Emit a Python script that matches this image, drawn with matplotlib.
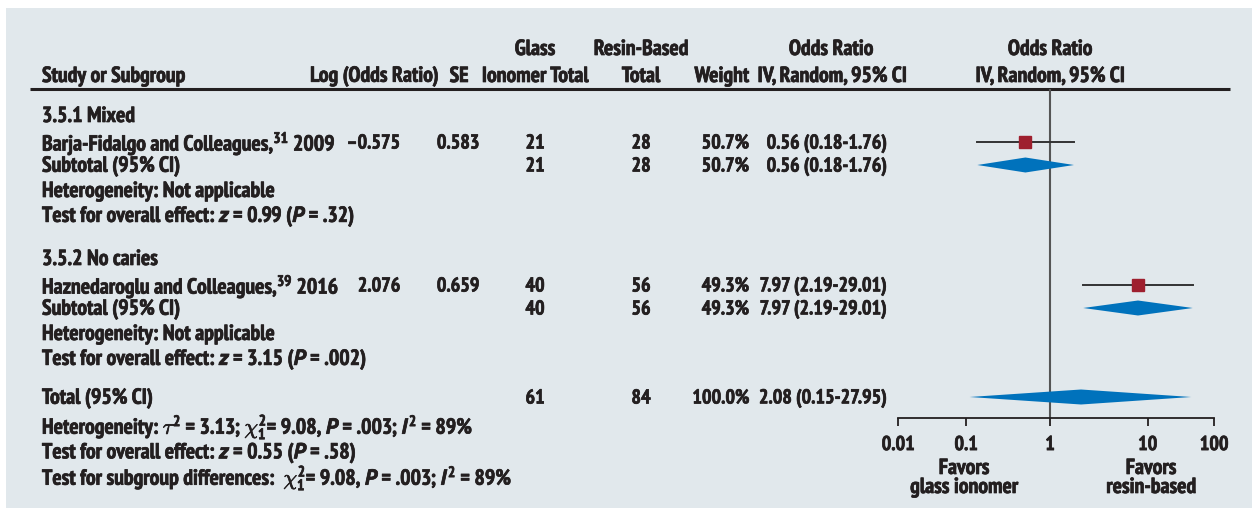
import numpy as np
import matplotlib
matplotlib.use('Agg')
import matplotlib.pyplot as plt
import matplotlib.patheffects as pe
from matplotlib import font_manager as fm
from matplotlib.patches import Rectangle

# ---- data ----
study_labels = ["Barja-Fidalgo and Colleagues,$^{31}$ 2009",
                "Haznedaroglu and Colleagues,$^{39}$ 2016"]
log_or = ["\u20130.575", "2.076"]
se = ["0.583", "0.659"]
glass_n = ["21", "40"]
resin_n = ["28", "56"]
weights = ["50.7%", "49.3%"]
or_text = ["0.56 (0.18-1.76)", "7.97 (2.19-29.01)"]
or_est = [0.56, 7.97]
or_lo = [0.18, 2.19]
or_hi = [1.76, 29.01]

subtotal_est = [0.56, 7.97]
subtotal_lo = [0.18, 2.19]
subtotal_hi = [1.76, 29.01]

total_n = ["61", "84"]
total_weight = "100.0%"
total_text = "2.08 (0.15-27.95)"
total_est, total_lo, total_hi = 2.08, 0.15, 27.95

subgroups = ["3.5.1 Mixed", "3.5.2 No caries"]
subgroup_tests = ["Test for overall effect: $z$ = 0.99 ($P$ = .32)",
                  "Test for overall effect: $z$ = 3.15 ($P$ = .002)"]
total_notes = [r"Heterogeneity: $\tau^2$ = 3.13; $\chi^2_1$= 9.08, $P$ = .003; $I^2$ = 89%",
               "Test for overall effect: $z$ = 0.55 ($P$ = .58)",
               r"Test for subgroup differences:  $\chi^2_1$= 9.08, $P$ = .003; $I^2$ = 89%"]
tick_labels = ["0.01", "0.1", "1", "10", "100"]

# ---- pick a bold condensed font ----
fonts = fm.fontManager.ttflist
def has(name, italic=False):
    for f in fonts:
        if f.name == name and (f.weight in ('bold', 700, 600, 'semibold') or
                               (isinstance(f.weight, int) and f.weight >= 600)):
            if (f.style == 'italic') == italic:
                return True
    return False

cands = ['PT Sans Narrow', 'Fira Sans Condensed', 'Roboto Condensed', 'Open Sans Condensed',
         'Archivo Narrow', 'Encode Sans Condensed', 'Asap Condensed', 'IBM Plex Sans Condensed',
         'Liberation Sans Narrow', 'DejaVu Sans Condensed', 'DejaVu Sans']
FAM = next(c for c in cands if has(c))
it_cands = [FAM, 'PT Sans', 'Fira Sans Condensed', 'Roboto Condensed', 'DejaVu Sans']
IT_FAM = next(c for c in it_cands if has(c, italic=True))

plt.rcParams['font.family'] = [FAM, 'DejaVu Sans']
plt.rcParams['font.weight'] = 'bold'
plt.rcParams['mathtext.fontset'] = 'custom'
plt.rcParams['mathtext.rm'] = FAM + ':bold'
plt.rcParams['mathtext.it'] = IT_FAM + ':bold:italic'
plt.rcParams['mathtext.bf'] = FAM + ':bold'

TXT = '#231f20'
PANEL = '#e1e8ec'
RED = '#9e1f2e'
BLUE = '#0072bc'
HEAVY = [pe.withStroke(linewidth=0.5, foreground=TXT)]

W, H = 1258, 514
fig = plt.figure(figsize=(W / 100, H / 100), dpi=100)
fig.patch.set_facecolor('white')

ax = fig.add_axes([0, 0, 1, 1])
ax.set_xlim(0, W)
ax.set_ylim(H, 0)
ax.axis('off')
ax.add_patch(Rectangle((6, 8), 1246, 500, facecolor=PANEL, edgecolor='none', zorder=0))

# fit font size so "Study or Subgroup" is as wide as in the reference (~143 px)
renderer = fig.canvas.get_renderer()
probe = ax.text(0, 0, "Study or Subgroup", fontsize=12)
FS = 12 * 143 / probe.get_window_extent(renderer).width
probe.remove()
FS_NUM = FS * 0.92   # numbers in the reference are set a little tighter


def t(x, y, s, ha='left', size=None, **kw):
    ax.text(x, y + 1.5, s, ha=ha, va='center', fontsize=size or FS, color=TXT,
            path_effects=HEAVY, **kw)


def n(x, y, s, ha='center'):
    t(x, y, s, ha=ha, size=FS_NUM)


# column layout (pixel positions)
X_LEFT, X_LOG, X_SE, X_G, X_R, X_W, X_OR, X_PLOT = 42, 400, 458, 535, 641, 749, 886, 1050

# header
t(X_G, 48, "Glass", ha='center')
t(X_R, 48, "Resin-Based", ha='center')
t(831, 48, "Odds Ratio", ha='center')
t(X_PLOT, 48, "Odds Ratio", ha='center')
t(X_LEFT, 75, "Study or Subgroup")
t(438, 75, "Log (Odds Ratio)", ha='right')
t(459, 75, "SE", ha='center')
t(X_G, 75, "Ionomer Total", ha='center')
t(X_R, 75, "Total", ha='center')
t(X_W, 75, "Weight", ha='right')
t(832, 75, "IV, Random, 95% CI", ha='center')
t(X_PLOT, 75, "IV, Random, 95% CI", ha='center')
ax.plot([30, 1230], [89, 89], color=TXT, lw=2.2, solid_capstyle='butt')

# rows: y positions for each subgroup block
block_y = [115, 258]
study_rows, sub_rows = [], []
for i, y0 in enumerate(block_y):
    y_study, y_sub, y_het, y_test = y0 + 27, y0 + 50, y0 + 75, y0 + 100
    study_rows.append(y_study)
    sub_rows.append(y_sub)
    t(X_LEFT, y0, subgroups[i])
    t(X_LEFT, y_study, study_labels[i])
    n(X_LOG, y_study, log_or[i], ha='right')
    n(X_SE, y_study, se[i])
    n(X_G, y_study, glass_n[i])
    n(X_R, y_study, resin_n[i])
    n(X_W, y_study, weights[i], ha='right')
    n(X_OR, y_study, or_text[i], ha='right')
    t(X_LEFT, y_sub, "Subtotal (95% CI)")
    n(X_G, y_sub, glass_n[i])
    n(X_R, y_sub, resin_n[i])
    n(X_W, y_sub, weights[i], ha='right')
    n(X_OR, y_sub, or_text[i], ha='right')
    t(X_LEFT, y_het, "Heterogeneity: Not applicable")
    t(X_LEFT, y_test, subgroup_tests[i])

y_total = 397
t(X_LEFT, y_total, "Total (95% CI)")
n(X_G, y_total, total_n[0])
n(X_R, y_total, total_n[1])
n(X_W, y_total, total_weight, ha='right')
n(X_OR, y_total, total_text, ha='right')
for k, note in enumerate(total_notes):
    t(X_LEFT, 426 + k * 25.5, note)

# ---- forest plot axes (log scale, 1 at x=1050, ~97.6 px per decade) ----
ax_left, ax_right, ax_top, ax_bot = 898, 1214, 89, 418
px_dec = 97.6
fa = fig.add_axes([ax_left / W, 1 - ax_bot / H, (ax_right - ax_left) / W, (ax_bot - ax_top) / H])
fa.set_xscale('log')
fa.set_xlim(10 ** ((ax_left - X_PLOT) / px_dec), 10 ** ((ax_right - X_PLOT) / px_dec))
fa.set_ylim(ax_bot, ax_top)
fa.patch.set_alpha(0)
for s in ['top', 'left', 'right']:
    fa.spines[s].set_visible(False)
fa.spines['bottom'].set_color(TXT)
fa.spines['bottom'].set_linewidth(1.3)
fa.set_yticks([])
# tick marks sit where the reference draws them
tick_dec = [(ax_left - X_PLOT) / px_dec, (966 - X_PLOT) / px_dec, 0, 1, (ax_right - X_PLOT) / px_dec]
fa.set_xticks([10 ** d for d in tick_dec])
fa.set_xticklabels(tick_labels)
fa.xaxis.set_minor_locator(matplotlib.ticker.NullLocator())
fa.tick_params(axis='x', direction='out', length=6, width=1.3, color=TXT, pad=7,
               labelsize=FS_NUM, labelcolor=TXT)
for lab in fa.get_xticklabels():
    lab.set_path_effects(HEAVY)

fa.axvline(1, color='#555555', lw=1.5, zorder=1)

for i in range(2):
    y = study_rows[i]
    fa.plot([or_lo[i], or_hi[i]], [y, y], color='#333333', lw=1.4, zorder=2)
    fa.plot([or_est[i]], [y], marker='s', ms=8.8, color=RED, mec=RED, zorder=3)
    ys = sub_rows[i]
    fa.fill([subtotal_lo[i], subtotal_est[i], subtotal_hi[i], subtotal_est[i]],
            [ys, ys - 7.5, ys, ys + 7.5], color=BLUE, lw=0, zorder=3)

fa.fill([total_lo, total_est, total_hi, total_est],
        [y_total, y_total - 7.5, y_total, y_total + 7.5], color=BLUE, lw=0, zorder=3)

t(964, 467, "Favors", ha='center')
t(964, 486, "glass ionomer", ha='center')
t(1151, 467, "Favors", ha='center')
t(1151, 486, "resin-based", ha='center')

fig.savefig('out.png', dpi=100, facecolor='white')
